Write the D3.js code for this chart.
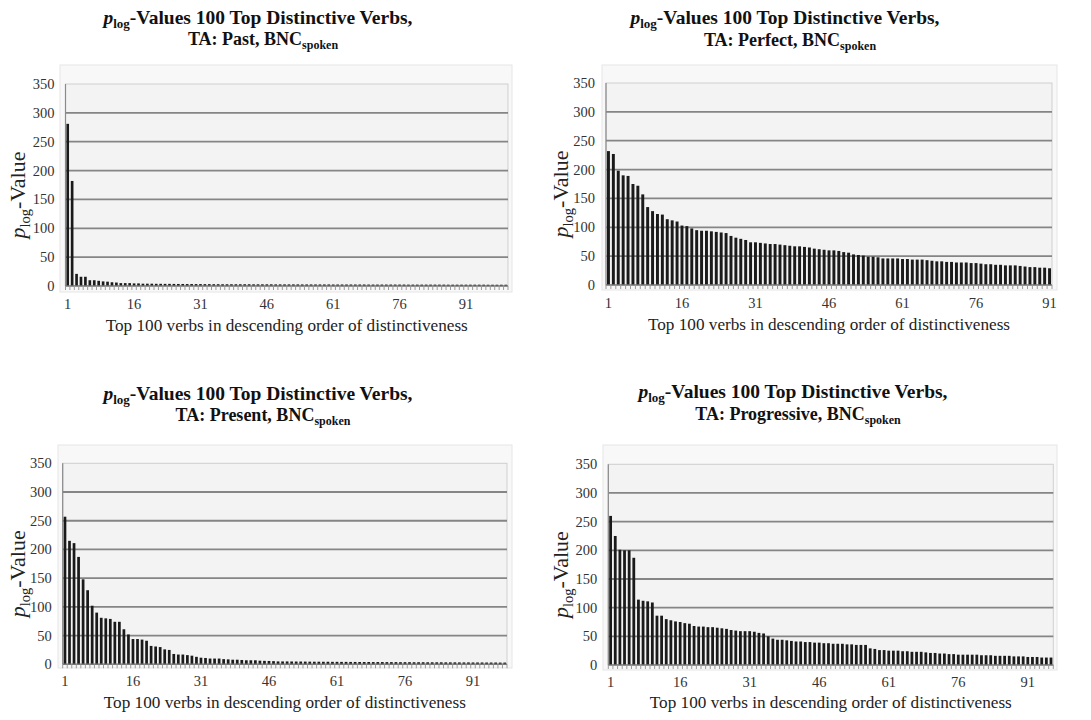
<!DOCTYPE html>
<html><head><meta charset="utf-8">
<script src="https://cdn.jsdelivr.net/npm/d3@7"></script>
<style>
body{margin:0;background:#fff}
svg{display:block}
text{font-family:"Liberation Serif","DejaVu Serif",serif}
</style>
</head><body>
<svg id="c" width="1091" height="720"></svg>
<script>
// ---------- data ----------
const chartNames = ["Past", "Perfect", "Present", "Progressive"];
const yTickValues = [0, 50, 100, 150, 200, 250, 300, 350];
const xTickLabels = ["1", "16", "31", "46", "61", "76", "91"];
const xAxisTitle = "Top 100 verbs in descending order of distinctiveness";

const pastValues = [
  281, 182, 21, 16, 16, 10, 10, 9, 8, 7.5,
  6.5, 6, 5, 5, 5, 4.5, 4.5, 4, 4, 4,
  3.8, 3.8, 3.7, 3.7, 3.6, 3.5, 3.5, 3.4, 3.4, 3.3,
  3.3, 3.2, 3.2, 3.1, 3.1, 3, 3, 3, 3, 3,
  3, 3, 2.9, 2.9, 2.9, 2.9, 2.9, 2.8, 2.8, 2.8,
  2.8, 2.8, 2.8, 2.7, 2.7, 2.7, 2.7, 2.7, 2.7, 2.7,
  2.6, 2.6, 2.6, 2.6, 2.6, 2.6, 2.6, 2.6, 2.5, 2.5,
  2.5, 2.5, 2.5, 2.5, 2.5, 2.5, 2.5, 2.4, 2.4, 2.4,
  2.4, 2.4, 2.4, 2.4, 2.4, 2.4, 2.3, 2.3, 2.3, 2.3,
  2.3, 2.3, 2.3, 2.3, 2.3, 2.2, 2.2, 2.2, 2.2, 2.2
];
const perfectValues = [
  232, 227, 198, 190, 189, 175, 172, 157, 135, 128,
  123, 122, 114, 112, 110, 103, 102, 98, 95, 94,
  94, 93, 92, 91, 90, 85, 82, 80, 78, 74,
  74, 73, 72, 71, 71, 70, 69, 68, 67, 67,
  66, 65, 63, 62, 61, 60, 60, 59, 57, 56,
  53, 52, 51, 49, 49, 48, 46, 46, 46, 46,
  45, 45, 44, 44, 44, 43, 42, 41, 41, 40,
  40, 39, 39, 39, 38, 38, 37, 36, 36, 35,
  35, 34, 34, 34, 33, 32, 31, 31, 30, 30,
  29
];
const presentValues = [
  257, 215, 211, 187, 148, 129, 102, 90, 81, 80,
  79, 74, 74, 61, 52, 44, 44, 43, 41, 32,
  31, 30, 26, 25, 18, 17, 17, 16, 15, 13,
  11.5, 11, 10, 10, 10, 9, 8.6, 8, 8, 7.5,
  7, 7, 7, 6.3, 6, 5.8, 5.5, 5, 5, 5,
  4.9, 4.8, 4.8, 4.7, 4.6, 4.5, 4.5, 4.4, 4.4, 4.3,
  4.3, 4.2, 4.2, 4.1, 4.1, 4, 4, 4, 3.9, 3.9,
  3.9, 3.8, 3.8, 3.8, 3.7, 3.7, 3.7, 3.6, 3.6, 3.6,
  3.5, 3.5, 3.5, 3.5, 3.4, 3.4, 3.4, 3.3, 3.3, 3.3,
  3.2, 3.2, 3.2, 3.1, 3.1, 3.1, 3, 3
];
const progressiveValues = [
  260, 225, 201, 200, 200, 187, 114, 112, 111, 109,
  86, 86, 80, 78, 76, 75, 73, 72, 68, 67,
  67, 66, 66, 65, 64, 63, 61, 60, 59, 59,
  59, 58, 56, 55, 50, 46, 44, 44, 43, 42,
  41, 41, 40, 40, 39, 39, 38, 38, 37, 37,
  37, 36, 36, 35, 35, 35, 29, 28, 26, 26,
  25, 25, 25, 24, 24, 23, 23, 23, 22, 21,
  21, 20, 20, 19, 19, 18, 18, 18, 18, 18,
  17, 17, 17, 16, 16, 16, 16, 15, 15, 15,
  14, 14, 14, 13, 13, 13
];
const seriesList = [pastValues, perfectValues, presentValues, progressiveValues];

// ---------- layout (pixels) ----------
const layouts = [
  {tx: 258, t1: 24, t2: 45, panel: [60, 65, 512, 292], plot: [65.5, 84, 508, 286], yl: 18, xtb: 309, xttl: 331},
  {tx: 785, t1: 24, t2: 46, panel: [602, 65, 1057, 290], plot: [606, 83, 1052, 285], yl: 561, xtb: 308, xttl: 330},
  {tx: 258, t1: 400, t2: 421, panel: [58, 445, 512, 668], plot: [62.7, 463.3, 507, 664.3], yl: 18, xtb: 686, xttl: 708},
  {tx: 793, t1: 398, t2: 420, panel: [603, 445, 1057, 670], plot: [608.3, 464.3, 1053.3, 665], yl: 561, xtb: 687, xttl: 708}
];

const svg = d3.select("#c");

seriesList.forEach((values, k) => {
  const L = layouts[k];
  const [px0, py0, px1, py1] = L.plot;
  const cats = values.map((d, i) => String(i + 1));
  const x = d3.scaleBand().domain(cats).range([px0, px1]).paddingInner(0.4).paddingOuter(0.2);
  const y = d3.scaleLinear().domain([0, 350]).range([py1, py0]);
  const g = svg.append("g");

  // panel
  g.append("rect").attr("x", L.panel[0]).attr("y", L.panel[1])
    .attr("width", L.panel[2] - L.panel[0]).attr("height", L.panel[3] - L.panel[1])
    .attr("fill", "#f8f8f8").attr("stroke", "#e6e6e6");
  g.append("rect").attr("x", px0).attr("y", py0)
    .attr("width", px1 - px0).attr("height", py1 - py0)
    .attr("fill", "#f3f3f3").attr("stroke", "#cfcfcf").attr("stroke-width", 1);

  // gridlines
  g.selectAll(".grid").data(yTickValues.filter(v => v > 0 && v < 350)).join("line")
    .attr("x1", px0).attr("x2", px1)
    .attr("y1", d => y(d)).attr("y2", d => y(d))
    .attr("stroke", "#858585").attr("stroke-width", 1.8);

  // bars
  g.selectAll(".bar").data(values).join("rect")
    .attr("x", (d, i) => x(cats[i]))
    .attr("width", x.bandwidth())
    .attr("y", d => y(d))
    .attr("height", d => y(0) - y(d))
    .attr("fill", "#1a1a1a");

  // left axis line & baseline
  g.append("line").attr("x1", px0).attr("x2", px0).attr("y1", py0).attr("y2", py1)
    .attr("stroke", "#8a8a8a").attr("stroke-width", 1.2);
  g.append("line").attr("x1", px0).attr("x2", px1).attr("y1", py1).attr("y2", py1)
    .attr("stroke", "#777").attr("stroke-width", 1.4);

  // category tick marks
  const bounds = cats.map(c => x(c) - x.step() * x.paddingInner() / 2).concat([px1]);
  g.selectAll(".ctick").data(bounds).join("line")
    .attr("x1", d => d).attr("x2", d => d)
    .attr("y1", py1).attr("y2", py1 + 4)
    .attr("stroke", "#999").attr("stroke-width", 1);

  // y tick labels
  g.selectAll(".ylab").data(yTickValues).join("text")
    .attr("x", px0 - 11).attr("y", d => y(d) + 5)
    .attr("text-anchor", "end").attr("font-size", 14.5).attr("fill", "#333")
    .text(d => d);

  // x tick labels
  g.selectAll(".xlab").data(xTickLabels).join("text")
    .attr("x", d => x(d) + x.bandwidth() / 2).attr("y", L.xtb)
    .attr("text-anchor", "middle").attr("font-size", 14.5).attr("fill", "#333")
    .text(d => d);

  // x axis title
  g.append("text").attr("x", (px0 + px1) / 2).attr("y", L.xttl)
    .attr("text-anchor", "middle").attr("font-size", 17.2).attr("fill", "#222")
    .text(xAxisTitle);

  // y axis title
  const yt = g.append("text")
    .attr("transform", `translate(${L.yl + 7},${(py0 + py1) / 2 + 10}) rotate(-90)`)
    .attr("text-anchor", "middle").attr("font-size", 22).attr("fill", "#222");
  yt.append("tspan").attr("font-style", "italic").text("p");
  yt.append("tspan").attr("font-size", 14.5).attr("dy", 5).text("log");
  yt.append("tspan").attr("dy", -5).text("-Value");

  // title
  const t1 = g.append("text").attr("x", L.tx).attr("y", L.t1)
    .attr("text-anchor", "middle").attr("font-size", 19.5).attr("font-weight", "bold").attr("fill", "#111");
  t1.append("tspan").attr("font-style", "italic").text("p");
  t1.append("tspan").attr("font-size", 13).attr("dy", 4).text("log");
  t1.append("tspan").attr("dy", -4).text("-Values 100 Top Distinctive Verbs,");
  const t2 = g.append("text").attr("x", L.tx + 5).attr("y", L.t2)
    .attr("text-anchor", "middle").attr("font-size", 18).attr("font-weight", "bold").attr("fill", "#111");
  t2.append("tspan").text(`TA: ${chartNames[k]}, BNC`);
  t2.append("tspan").attr("font-size", 12).attr("dy", 4).text("spoken");
});
</script>
</body></html>
